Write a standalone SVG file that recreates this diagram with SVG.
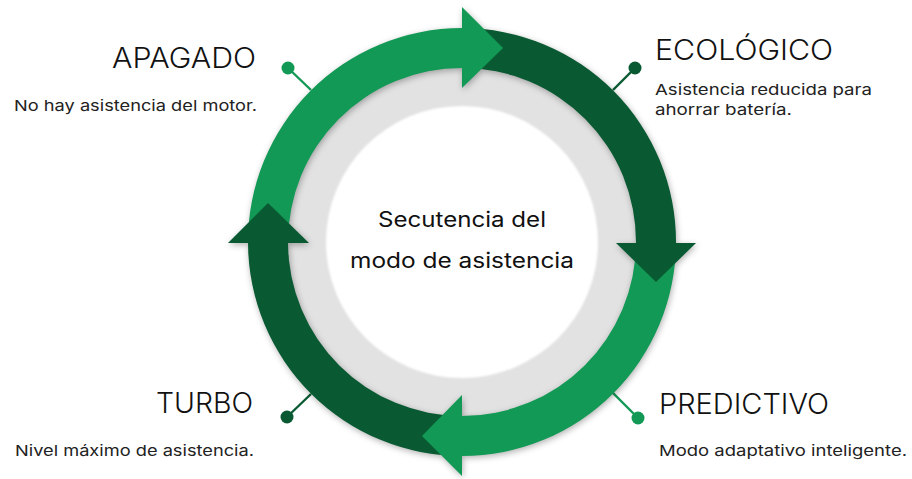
<svg xmlns="http://www.w3.org/2000/svg" width="912" height="479" viewBox="0 0 912 479">
<style>
text{font-family:"Inter","Liberation Sans",sans-serif;fill:#111;}
.h{font-size:28px;font-weight:300;}
.d{font-size:15px;font-weight:400;fill:#222;}
.c{font-size:21px;font-weight:400;}
.l{fill:#119955;}
.k{fill:#095a32;}
.sl{stroke:#119955;}
.sk{stroke:#095a32;}
.ln{stroke-width:2.4;fill:none;}
</style>
<defs>
<filter id="sh" x="-10%" y="-10%" width="120%" height="120%" color-interpolation-filters="sRGB"><feDropShadow dx="1" dy="2" stdDeviation="3" flood-color="#000" flood-opacity="0.3"/></filter>
<filter id="sg" x="-10%" y="-10%" width="120%" height="120%" color-interpolation-filters="sRGB"><feGaussianBlur stdDeviation="0.8"/></filter>
</defs>
<rect width="912" height="479" fill="#fff"/>
<g id="connectors">
<line class="ln sl" x1="311" y1="90" x2="288" y2="68"/>
<line class="ln sk" x1="613" y1="90" x2="635" y2="68"/>
<line class="ln sk" x1="311" y1="394" x2="287" y2="417"/>
<line class="ln sl" x1="613" y1="393" x2="638" y2="418"/>
</g>
<g id="hub">
<circle cx="462" cy="242" r="176" fill="#e2e2e2"/>
<circle cx="462" cy="242" r="136" fill="#fff" filter="url(#sg)"/>
</g>
<g id="ring" filter="url(#sh)">
<g id="band-apagado"><path class="l" d="M248 243A214 214 0 0 1 462 28V68A174 174 0 0 0 288 243Z"/></g>
<g id="band-ecologico"><path class="k" d="M462 28A214 214 0 0 1 676 243H636A174 174 0 0 0 462 68Z"/></g>
<g id="band-predictivo"><path class="l" d="M676 243A214 214 0 0 1 462 456V416A174 174 0 0 0 636 243Z"/></g>
<g id="band-turbo"><path class="k" d="M462 456A214 214 0 0 1 248 243H288A174 174 0 0 0 462 416Z"/></g>
<path class="l" d="M462 7L503 48L462 88Z"/>
<path class="k" d="M696 243L656 282L616 243Z"/>
<path class="l" d="M462 476L422 436L462 395Z"/>
<path class="k" d="M228 243L268 203L309 243Z"/>
</g>
<g id="node-apagado">
<circle class="l" cx="288" cy="68" r="6.5"/>
<text class="h" x="112" y="68" textLength="144" lengthAdjust="spacingAndGlyphs">APAGADO</text>
<text class="d" x="14" y="111" textLength="243" lengthAdjust="spacingAndGlyphs">No hay asistencia del motor.</text>
</g>
<g id="node-ecologico">
<circle class="k" cx="635" cy="68" r="6.5"/>
<text class="h" x="655" y="60" textLength="178" lengthAdjust="spacingAndGlyphs">ECOLÓGICO</text>
<text class="d" x="655" y="95" textLength="217" lengthAdjust="spacingAndGlyphs">Asistencia reducida para</text>
<text class="d" x="655" y="115" textLength="137" lengthAdjust="spacingAndGlyphs">ahorrar batería.</text>
</g>
<g id="node-turbo">
<circle class="k" cx="287" cy="417" r="6.5"/>
<text class="h" x="156" y="413" textLength="97" lengthAdjust="spacingAndGlyphs">TURBO</text>
<text class="d" x="15" y="456" textLength="239" lengthAdjust="spacingAndGlyphs">Nivel máximo de asistencia.</text>
</g>
<g id="node-predictivo">
<circle class="l" cx="638" cy="418" r="6.5"/>
<text class="h" x="659" y="414" textLength="170" lengthAdjust="spacingAndGlyphs">PREDICTIVO</text>
<text class="d" x="659" y="456" textLength="248" lengthAdjust="spacingAndGlyphs">Modo adaptativo inteligente.</text>
</g>
<g id="center">
<text class="c" x="378" y="227" textLength="168" lengthAdjust="spacingAndGlyphs">Secutencia del</text>
<text class="c" x="350" y="268" textLength="224" lengthAdjust="spacingAndGlyphs">modo de asistencia</text>
</g>
</svg>
